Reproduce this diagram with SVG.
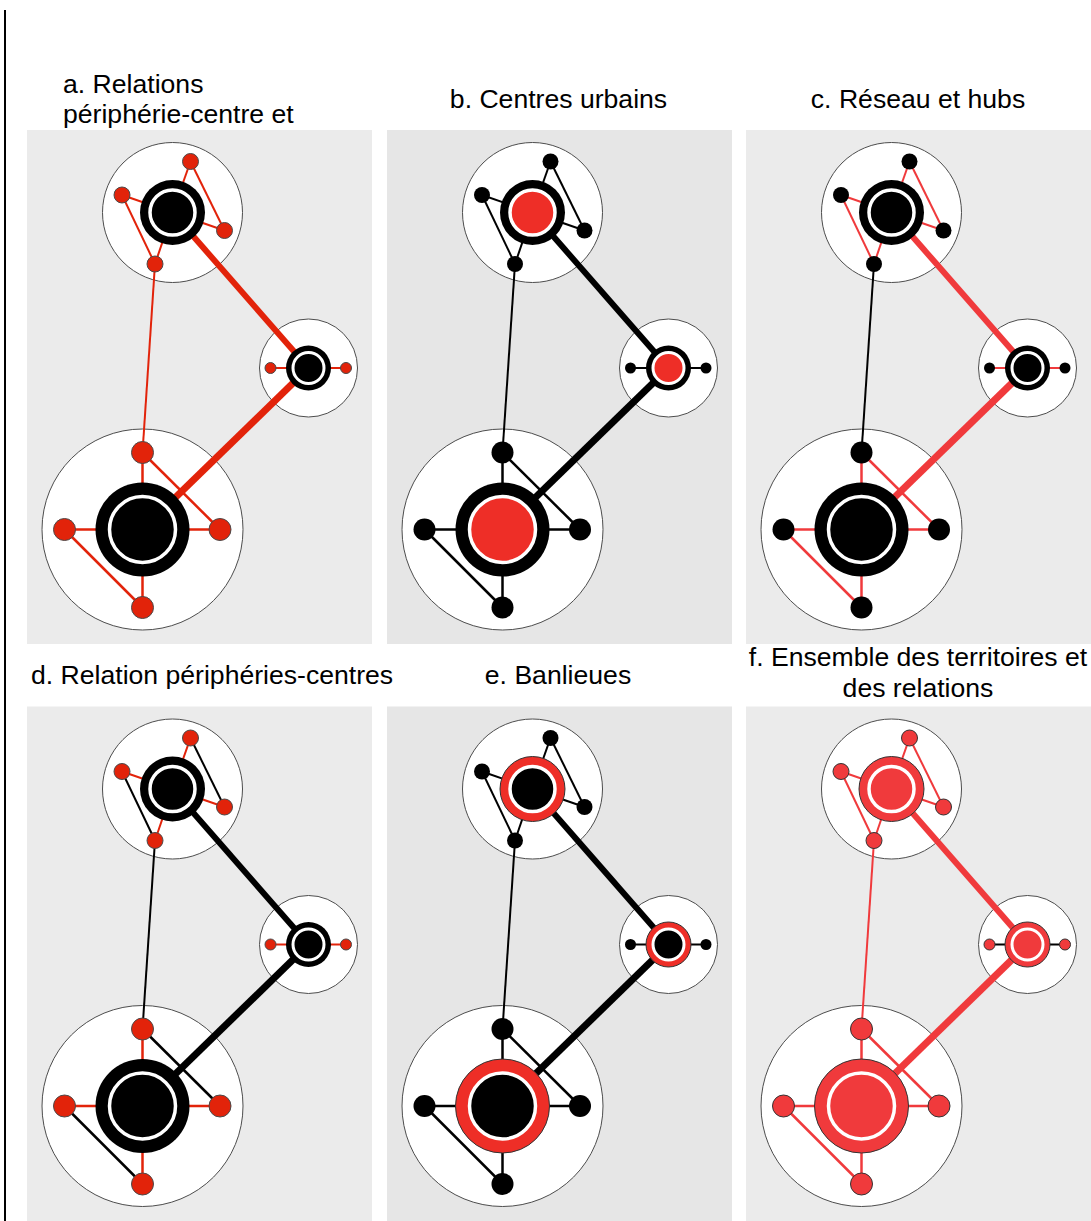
<svg xmlns="http://www.w3.org/2000/svg" width="1091" height="1221" viewBox="0 0 1091 1221">
<style>
  .bg1{fill:#ebebeb}
  .bg2{fill:#e6e6e6}
  .terr{fill:#fff;stroke:#4d4d4d;stroke-width:1}
  line{fill:none}
  .w2{stroke-width:2}
  .w25{stroke-width:2.5}
  .w6{stroke-width:6}
  .w7{stroke-width:7}
  .sat{stroke:none}
  .ho{fill:#000}
  .hi{fill:#000;stroke:#fff}
  .lbl{font-family:"Liberation Sans",Arial,Helvetica,sans-serif;font-size:26.6px;fill:#000}
  .mid{text-anchor:middle}
  /* a: peripheries and relations in red */
  .pa .sat,.pd .sat{fill:#e2230a;stroke:#4a4a4a;stroke-width:1}
  .pa line{stroke:#e2230a}
  /* b, e: black network */
  .pb .sat,.pc .sat,.pe .sat{fill:#000}
  .pb line,.pe line{stroke:#000}
  .pb .hi{fill:#ee2e27}
  /* c: red network, black long link */
  .pc .sp,.pc .dg,.pc .lk{stroke:#f03a3c}
  .pc .th{stroke:#000}
  /* d: red spokes, black relations */
  .pd .sp{stroke:#e2230a}
  .pd .dg,.pd .lk,.pd .th{stroke:#000}
  /* e: red suburbs ring */
  .pe .ho{fill:#ee2e27;stroke:#333;stroke-width:1}
  /* f: everything red */
  .pf .sat{fill:#f03a3c;stroke:#333;stroke-width:1}
  .pf line{stroke:#f03a3c}
  .pf .sp2{stroke:#000}
  .pf .ho{fill:#f03a3c;stroke:#333;stroke-width:1}
  .pf .hi{fill:#f03a3c}
</style>

<line x1="5" y1="10" x2="5" y2="1221" stroke="#000" stroke-width="2"/>

<!-- panel a -->
<g id="pa" class="pa">
  <rect class="bg1" x="27" y="130" width="345" height="514"/>
  <g id="a-t1"><circle class="terr" cx="172.5" cy="212.5" r="70"/></g>
  <g id="a-t2"><circle class="terr" cx="308.5" cy="368" r="49"/></g>
  <g id="a-t3"><circle class="terr" cx="142.5" cy="529.5" r="100.5"/></g>
  <g id="a-connectors">
    <line class="sp w2" x1="190.5" y1="161.5" x2="172.5" y2="212.5"/>
    <line class="sp w2" x1="122" y1="195" x2="172.5" y2="212.5"/>
    <line class="sp w2" x1="224.5" y1="230.5" x2="172.5" y2="212.5"/>
    <line class="sp w2" x1="155" y1="264" x2="172.5" y2="212.5"/>
    <line class="dg w2" x1="190.5" y1="161.5" x2="224.5" y2="230.5"/>
    <line class="dg w2" x1="122" y1="195" x2="155" y2="264"/>
    <line class="sp sp2 w2" x1="270.5" y1="368" x2="308.5" y2="368"/>
    <line class="sp sp2 w2" x1="346" y1="368" x2="308.5" y2="368"/>
    <line class="sp w25" x1="142.5" y1="452.5" x2="142.5" y2="529.5"/>
    <line class="sp w25" x1="64.5" y1="529.5" x2="142.5" y2="529.5"/>
    <line class="sp w25" x1="220" y1="529.5" x2="142.5" y2="529.5"/>
    <line class="sp w25" x1="142.5" y1="607.5" x2="142.5" y2="529.5"/>
    <line class="dg w25" x1="142.5" y1="452.5" x2="220" y2="529.5"/>
    <line class="dg w25" x1="64.5" y1="529.5" x2="142.5" y2="607.5"/>
    <line class="lk w6" x1="172.5" y1="212.5" x2="308.5" y2="368"/>
    <line class="lk w7" x1="308.5" y1="368" x2="142.5" y2="529.5"/>
    <line class="th w2" x1="155" y1="264" x2="142.5" y2="452.5"/>
  </g>
  <g id="a-s1"><circle class="sat" cx="190.5" cy="161.5" r="8"/></g>
  <g id="a-s2"><circle class="sat" cx="122" cy="195" r="8"/></g>
  <g id="a-s3"><circle class="sat" cx="224.5" cy="230.5" r="8"/></g>
  <g id="a-s4"><circle class="sat" cx="155" cy="264" r="8"/></g>
  <g id="a-s5"><circle class="sat" cx="270.5" cy="368" r="5.5"/></g>
  <g id="a-s6"><circle class="sat" cx="346" cy="368" r="5.5"/></g>
  <g id="a-s7"><circle class="sat" cx="142.5" cy="452.5" r="11"/></g>
  <g id="a-s8"><circle class="sat" cx="64.5" cy="529.5" r="11"/></g>
  <g id="a-s9"><circle class="sat" cx="220" cy="529.5" r="11"/></g>
  <g id="a-s10"><circle class="sat" cx="142.5" cy="607.5" r="11"/></g>
  <g id="a-h1"><circle class="ho" cx="172.5" cy="212.5" r="32.5"/><circle class="hi" cx="172.5" cy="212.5" r="22.5" stroke-width="3.5"/></g>
  <g id="a-h2"><circle class="ho" cx="308.5" cy="368" r="22.5"/><circle class="hi" cx="308.5" cy="368" r="15.5" stroke-width="3"/></g>
  <g id="a-h3"><circle class="ho" cx="142.5" cy="529.5" r="47"/><circle class="hi" cx="142.5" cy="529.5" r="33" stroke-width="3.5"/></g>
</g>

<!-- panel b -->
<g id="pb" class="pb" transform="translate(360,0)">
  <rect class="bg2" x="27" y="130" width="345" height="514"/>
  <g id="b-t1"><circle class="terr" cx="172.5" cy="212.5" r="70"/></g>
  <g id="b-t2"><circle class="terr" cx="308.5" cy="368" r="49"/></g>
  <g id="b-t3"><circle class="terr" cx="142.5" cy="529.5" r="100.5"/></g>
  <g id="b-connectors">
    <line class="sp w2" x1="190.5" y1="161.5" x2="172.5" y2="212.5"/>
    <line class="sp w2" x1="122" y1="195" x2="172.5" y2="212.5"/>
    <line class="sp w2" x1="224.5" y1="230.5" x2="172.5" y2="212.5"/>
    <line class="sp w2" x1="155" y1="264" x2="172.5" y2="212.5"/>
    <line class="dg w2" x1="190.5" y1="161.5" x2="224.5" y2="230.5"/>
    <line class="dg w2" x1="122" y1="195" x2="155" y2="264"/>
    <line class="sp sp2 w2" x1="270.5" y1="368" x2="308.5" y2="368"/>
    <line class="sp sp2 w2" x1="346" y1="368" x2="308.5" y2="368"/>
    <line class="sp w25" x1="142.5" y1="452.5" x2="142.5" y2="529.5"/>
    <line class="sp w25" x1="64.5" y1="529.5" x2="142.5" y2="529.5"/>
    <line class="sp w25" x1="220" y1="529.5" x2="142.5" y2="529.5"/>
    <line class="sp w25" x1="142.5" y1="607.5" x2="142.5" y2="529.5"/>
    <line class="dg w25" x1="142.5" y1="452.5" x2="220" y2="529.5"/>
    <line class="dg w25" x1="64.5" y1="529.5" x2="142.5" y2="607.5"/>
    <line class="lk w6" x1="172.5" y1="212.5" x2="308.5" y2="368"/>
    <line class="lk w7" x1="308.5" y1="368" x2="142.5" y2="529.5"/>
    <line class="th w2" x1="155" y1="264" x2="142.5" y2="452.5"/>
  </g>
  <g id="b-s1"><circle class="sat" cx="190.5" cy="161.5" r="8"/></g>
  <g id="b-s2"><circle class="sat" cx="122" cy="195" r="8"/></g>
  <g id="b-s3"><circle class="sat" cx="224.5" cy="230.5" r="8"/></g>
  <g id="b-s4"><circle class="sat" cx="155" cy="264" r="8"/></g>
  <g id="b-s5"><circle class="sat" cx="270.5" cy="368" r="5.5"/></g>
  <g id="b-s6"><circle class="sat" cx="346" cy="368" r="5.5"/></g>
  <g id="b-s7"><circle class="sat" cx="142.5" cy="452.5" r="11"/></g>
  <g id="b-s8"><circle class="sat" cx="64.5" cy="529.5" r="11"/></g>
  <g id="b-s9"><circle class="sat" cx="220" cy="529.5" r="11"/></g>
  <g id="b-s10"><circle class="sat" cx="142.5" cy="607.5" r="11"/></g>
  <g id="b-h1"><circle class="ho" cx="172.5" cy="212.5" r="32.5"/><circle class="hi" cx="172.5" cy="212.5" r="22.5" stroke-width="3.5"/></g>
  <g id="b-h2"><circle class="ho" cx="308.5" cy="368" r="22.5"/><circle class="hi" cx="308.5" cy="368" r="15.5" stroke-width="3"/></g>
  <g id="b-h3"><circle class="ho" cx="142.5" cy="529.5" r="47"/><circle class="hi" cx="142.5" cy="529.5" r="33" stroke-width="3.5"/></g>
</g>

<!-- panel c -->
<g id="pc" class="pc" transform="translate(719,0)">
  <rect class="bg1" x="27" y="130" width="345" height="514"/>
  <g id="c-t1"><circle class="terr" cx="172.5" cy="212.5" r="70"/></g>
  <g id="c-t2"><circle class="terr" cx="308.5" cy="368" r="49"/></g>
  <g id="c-t3"><circle class="terr" cx="142.5" cy="529.5" r="100.5"/></g>
  <g id="c-connectors">
    <line class="sp w2" x1="190.5" y1="161.5" x2="172.5" y2="212.5"/>
    <line class="sp w2" x1="122" y1="195" x2="172.5" y2="212.5"/>
    <line class="sp w2" x1="224.5" y1="230.5" x2="172.5" y2="212.5"/>
    <line class="sp w2" x1="155" y1="264" x2="172.5" y2="212.5"/>
    <line class="dg w2" x1="190.5" y1="161.5" x2="224.5" y2="230.5"/>
    <line class="dg w2" x1="122" y1="195" x2="155" y2="264"/>
    <line class="sp sp2 w2" x1="270.5" y1="368" x2="308.5" y2="368"/>
    <line class="sp sp2 w2" x1="346" y1="368" x2="308.5" y2="368"/>
    <line class="sp w25" x1="142.5" y1="452.5" x2="142.5" y2="529.5"/>
    <line class="sp w25" x1="64.5" y1="529.5" x2="142.5" y2="529.5"/>
    <line class="sp w25" x1="220" y1="529.5" x2="142.5" y2="529.5"/>
    <line class="sp w25" x1="142.5" y1="607.5" x2="142.5" y2="529.5"/>
    <line class="dg w25" x1="142.5" y1="452.5" x2="220" y2="529.5"/>
    <line class="dg w25" x1="64.5" y1="529.5" x2="142.5" y2="607.5"/>
    <line class="lk w6" x1="172.5" y1="212.5" x2="308.5" y2="368"/>
    <line class="lk w7" x1="308.5" y1="368" x2="142.5" y2="529.5"/>
    <line class="th w2" x1="155" y1="264" x2="142.5" y2="452.5"/>
  </g>
  <g id="c-s1"><circle class="sat" cx="190.5" cy="161.5" r="8"/></g>
  <g id="c-s2"><circle class="sat" cx="122" cy="195" r="8"/></g>
  <g id="c-s3"><circle class="sat" cx="224.5" cy="230.5" r="8"/></g>
  <g id="c-s4"><circle class="sat" cx="155" cy="264" r="8"/></g>
  <g id="c-s5"><circle class="sat" cx="270.5" cy="368" r="5.5"/></g>
  <g id="c-s6"><circle class="sat" cx="346" cy="368" r="5.5"/></g>
  <g id="c-s7"><circle class="sat" cx="142.5" cy="452.5" r="11"/></g>
  <g id="c-s8"><circle class="sat" cx="64.5" cy="529.5" r="11"/></g>
  <g id="c-s9"><circle class="sat" cx="220" cy="529.5" r="11"/></g>
  <g id="c-s10"><circle class="sat" cx="142.5" cy="607.5" r="11"/></g>
  <g id="c-h1"><circle class="ho" cx="172.5" cy="212.5" r="32.5"/><circle class="hi" cx="172.5" cy="212.5" r="22.5" stroke-width="3.5"/></g>
  <g id="c-h2"><circle class="ho" cx="308.5" cy="368" r="22.5"/><circle class="hi" cx="308.5" cy="368" r="15.5" stroke-width="3"/></g>
  <g id="c-h3"><circle class="ho" cx="142.5" cy="529.5" r="47"/><circle class="hi" cx="142.5" cy="529.5" r="33" stroke-width="3.5"/></g>
</g>

<!-- panel d -->
<g id="pd" class="pd" transform="translate(0,576.5)">
  <rect class="bg1" x="27" y="130" width="345" height="515"/>
  <g id="d-t1"><circle class="terr" cx="172.5" cy="212.5" r="70"/></g>
  <g id="d-t2"><circle class="terr" cx="308.5" cy="368" r="49"/></g>
  <g id="d-t3"><circle class="terr" cx="142.5" cy="529.5" r="100.5"/></g>
  <g id="d-connectors">
    <line class="sp w2" x1="190.5" y1="161.5" x2="172.5" y2="212.5"/>
    <line class="sp w2" x1="122" y1="195" x2="172.5" y2="212.5"/>
    <line class="sp w2" x1="224.5" y1="230.5" x2="172.5" y2="212.5"/>
    <line class="sp w2" x1="155" y1="264" x2="172.5" y2="212.5"/>
    <line class="dg w2" x1="190.5" y1="161.5" x2="224.5" y2="230.5"/>
    <line class="dg w2" x1="122" y1="195" x2="155" y2="264"/>
    <line class="sp sp2 w2" x1="270.5" y1="368" x2="308.5" y2="368"/>
    <line class="sp sp2 w2" x1="346" y1="368" x2="308.5" y2="368"/>
    <line class="sp w25" x1="142.5" y1="452.5" x2="142.5" y2="529.5"/>
    <line class="sp w25" x1="64.5" y1="529.5" x2="142.5" y2="529.5"/>
    <line class="sp w25" x1="220" y1="529.5" x2="142.5" y2="529.5"/>
    <line class="sp w25" x1="142.5" y1="607.5" x2="142.5" y2="529.5"/>
    <line class="dg w25" x1="142.5" y1="452.5" x2="220" y2="529.5"/>
    <line class="dg w25" x1="64.5" y1="529.5" x2="142.5" y2="607.5"/>
    <line class="lk w6" x1="172.5" y1="212.5" x2="308.5" y2="368"/>
    <line class="lk w7" x1="308.5" y1="368" x2="142.5" y2="529.5"/>
    <line class="th w2" x1="155" y1="264" x2="142.5" y2="452.5"/>
  </g>
  <g id="d-s1"><circle class="sat" cx="190.5" cy="161.5" r="8"/></g>
  <g id="d-s2"><circle class="sat" cx="122" cy="195" r="8"/></g>
  <g id="d-s3"><circle class="sat" cx="224.5" cy="230.5" r="8"/></g>
  <g id="d-s4"><circle class="sat" cx="155" cy="264" r="8"/></g>
  <g id="d-s5"><circle class="sat" cx="270.5" cy="368" r="5.5"/></g>
  <g id="d-s6"><circle class="sat" cx="346" cy="368" r="5.5"/></g>
  <g id="d-s7"><circle class="sat" cx="142.5" cy="452.5" r="11"/></g>
  <g id="d-s8"><circle class="sat" cx="64.5" cy="529.5" r="11"/></g>
  <g id="d-s9"><circle class="sat" cx="220" cy="529.5" r="11"/></g>
  <g id="d-s10"><circle class="sat" cx="142.5" cy="607.5" r="11"/></g>
  <g id="d-h1"><circle class="ho" cx="172.5" cy="212.5" r="32.5"/><circle class="hi" cx="172.5" cy="212.5" r="22.5" stroke-width="3.5"/></g>
  <g id="d-h2"><circle class="ho" cx="308.5" cy="368" r="22.5"/><circle class="hi" cx="308.5" cy="368" r="15.5" stroke-width="3"/></g>
  <g id="d-h3"><circle class="ho" cx="142.5" cy="529.5" r="47"/><circle class="hi" cx="142.5" cy="529.5" r="33" stroke-width="3.5"/></g>
</g>

<!-- panel e -->
<g id="pe" class="pe" transform="translate(360,576.5)">
  <rect class="bg2" x="27" y="130" width="345" height="515"/>
  <g id="e-t1"><circle class="terr" cx="172.5" cy="212.5" r="70"/></g>
  <g id="e-t2"><circle class="terr" cx="308.5" cy="368" r="49"/></g>
  <g id="e-t3"><circle class="terr" cx="142.5" cy="529.5" r="100.5"/></g>
  <g id="e-connectors">
    <line class="sp w2" x1="190.5" y1="161.5" x2="172.5" y2="212.5"/>
    <line class="sp w2" x1="122" y1="195" x2="172.5" y2="212.5"/>
    <line class="sp w2" x1="224.5" y1="230.5" x2="172.5" y2="212.5"/>
    <line class="sp w2" x1="155" y1="264" x2="172.5" y2="212.5"/>
    <line class="dg w2" x1="190.5" y1="161.5" x2="224.5" y2="230.5"/>
    <line class="dg w2" x1="122" y1="195" x2="155" y2="264"/>
    <line class="sp sp2 w2" x1="270.5" y1="368" x2="308.5" y2="368"/>
    <line class="sp sp2 w2" x1="346" y1="368" x2="308.5" y2="368"/>
    <line class="sp w25" x1="142.5" y1="452.5" x2="142.5" y2="529.5"/>
    <line class="sp w25" x1="64.5" y1="529.5" x2="142.5" y2="529.5"/>
    <line class="sp w25" x1="220" y1="529.5" x2="142.5" y2="529.5"/>
    <line class="sp w25" x1="142.5" y1="607.5" x2="142.5" y2="529.5"/>
    <line class="dg w25" x1="142.5" y1="452.5" x2="220" y2="529.5"/>
    <line class="dg w25" x1="64.5" y1="529.5" x2="142.5" y2="607.5"/>
    <line class="lk w6" x1="172.5" y1="212.5" x2="308.5" y2="368"/>
    <line class="lk w7" x1="308.5" y1="368" x2="142.5" y2="529.5"/>
    <line class="th w2" x1="155" y1="264" x2="142.5" y2="452.5"/>
  </g>
  <g id="e-s1"><circle class="sat" cx="190.5" cy="161.5" r="8"/></g>
  <g id="e-s2"><circle class="sat" cx="122" cy="195" r="8"/></g>
  <g id="e-s3"><circle class="sat" cx="224.5" cy="230.5" r="8"/></g>
  <g id="e-s4"><circle class="sat" cx="155" cy="264" r="8"/></g>
  <g id="e-s5"><circle class="sat" cx="270.5" cy="368" r="5.5"/></g>
  <g id="e-s6"><circle class="sat" cx="346" cy="368" r="5.5"/></g>
  <g id="e-s7"><circle class="sat" cx="142.5" cy="452.5" r="11"/></g>
  <g id="e-s8"><circle class="sat" cx="64.5" cy="529.5" r="11"/></g>
  <g id="e-s9"><circle class="sat" cx="220" cy="529.5" r="11"/></g>
  <g id="e-s10"><circle class="sat" cx="142.5" cy="607.5" r="11"/></g>
  <g id="e-h1"><circle class="ho" cx="172.5" cy="212.5" r="32.5"/><circle class="hi" cx="172.5" cy="212.5" r="22.5" stroke-width="3.5"/></g>
  <g id="e-h2"><circle class="ho" cx="308.5" cy="368" r="22.5"/><circle class="hi" cx="308.5" cy="368" r="15.5" stroke-width="3"/></g>
  <g id="e-h3"><circle class="ho" cx="142.5" cy="529.5" r="47"/><circle class="hi" cx="142.5" cy="529.5" r="33" stroke-width="3.5"/></g>
</g>

<!-- panel f -->
<g id="pf" class="pf" transform="translate(719,576.5)">
  <rect class="bg1" x="27" y="130" width="345" height="515"/>
  <g id="f-t1"><circle class="terr" cx="172.5" cy="212.5" r="70"/></g>
  <g id="f-t2"><circle class="terr" cx="308.5" cy="368" r="49"/></g>
  <g id="f-t3"><circle class="terr" cx="142.5" cy="529.5" r="100.5"/></g>
  <g id="f-connectors">
    <line class="sp w2" x1="190.5" y1="161.5" x2="172.5" y2="212.5"/>
    <line class="sp w2" x1="122" y1="195" x2="172.5" y2="212.5"/>
    <line class="sp w2" x1="224.5" y1="230.5" x2="172.5" y2="212.5"/>
    <line class="sp w2" x1="155" y1="264" x2="172.5" y2="212.5"/>
    <line class="dg w2" x1="190.5" y1="161.5" x2="224.5" y2="230.5"/>
    <line class="dg w2" x1="122" y1="195" x2="155" y2="264"/>
    <line class="sp sp2 w2" x1="270.5" y1="368" x2="308.5" y2="368"/>
    <line class="sp sp2 w2" x1="346" y1="368" x2="308.5" y2="368"/>
    <line class="sp w25" x1="142.5" y1="452.5" x2="142.5" y2="529.5"/>
    <line class="sp w25" x1="64.5" y1="529.5" x2="142.5" y2="529.5"/>
    <line class="sp w25" x1="220" y1="529.5" x2="142.5" y2="529.5"/>
    <line class="sp w25" x1="142.5" y1="607.5" x2="142.5" y2="529.5"/>
    <line class="dg w25" x1="142.5" y1="452.5" x2="220" y2="529.5"/>
    <line class="dg w25" x1="64.5" y1="529.5" x2="142.5" y2="607.5"/>
    <line class="lk w6" x1="172.5" y1="212.5" x2="308.5" y2="368"/>
    <line class="lk w7" x1="308.5" y1="368" x2="142.5" y2="529.5"/>
    <line class="th w2" x1="155" y1="264" x2="142.5" y2="452.5"/>
  </g>
  <g id="f-s1"><circle class="sat" cx="190.5" cy="161.5" r="8"/></g>
  <g id="f-s2"><circle class="sat" cx="122" cy="195" r="8"/></g>
  <g id="f-s3"><circle class="sat" cx="224.5" cy="230.5" r="8"/></g>
  <g id="f-s4"><circle class="sat" cx="155" cy="264" r="8"/></g>
  <g id="f-s5"><circle class="sat" cx="270.5" cy="368" r="5.5"/></g>
  <g id="f-s6"><circle class="sat" cx="346" cy="368" r="5.5"/></g>
  <g id="f-s7"><circle class="sat" cx="142.5" cy="452.5" r="11"/></g>
  <g id="f-s8"><circle class="sat" cx="64.5" cy="529.5" r="11"/></g>
  <g id="f-s9"><circle class="sat" cx="220" cy="529.5" r="11"/></g>
  <g id="f-s10"><circle class="sat" cx="142.5" cy="607.5" r="11"/></g>
  <g id="f-h1"><circle class="ho" cx="172.5" cy="212.5" r="32.5"/><circle class="hi" cx="172.5" cy="212.5" r="22.5" stroke-width="3.5"/></g>
  <g id="f-h2"><circle class="ho" cx="308.5" cy="368" r="22.5"/><circle class="hi" cx="308.5" cy="368" r="15.5" stroke-width="3"/></g>
  <g id="f-h3"><circle class="ho" cx="142.5" cy="529.5" r="47"/><circle class="hi" cx="142.5" cy="529.5" r="33" stroke-width="3.5"/></g>
</g>

<!-- panel titles -->
<g id="titles" class="lbl">
  <text x="63" y="93">a. Relations</text>
  <text x="63" y="123">périphérie-centre et</text>
  <text class="mid" x="558.5" y="108">b. Centres urbains</text>
  <text class="mid" x="918" y="108">c. Réseau et hubs</text>
  <text x="31" y="684">d. Relation périphéries-centres</text>
  <text class="mid" x="558" y="684">e. Banlieues</text>
  <text class="mid" x="918" y="666">f. Ensemble des territoires et</text>
  <text class="mid" x="918" y="697">des relations</text>
</g>
</svg>
